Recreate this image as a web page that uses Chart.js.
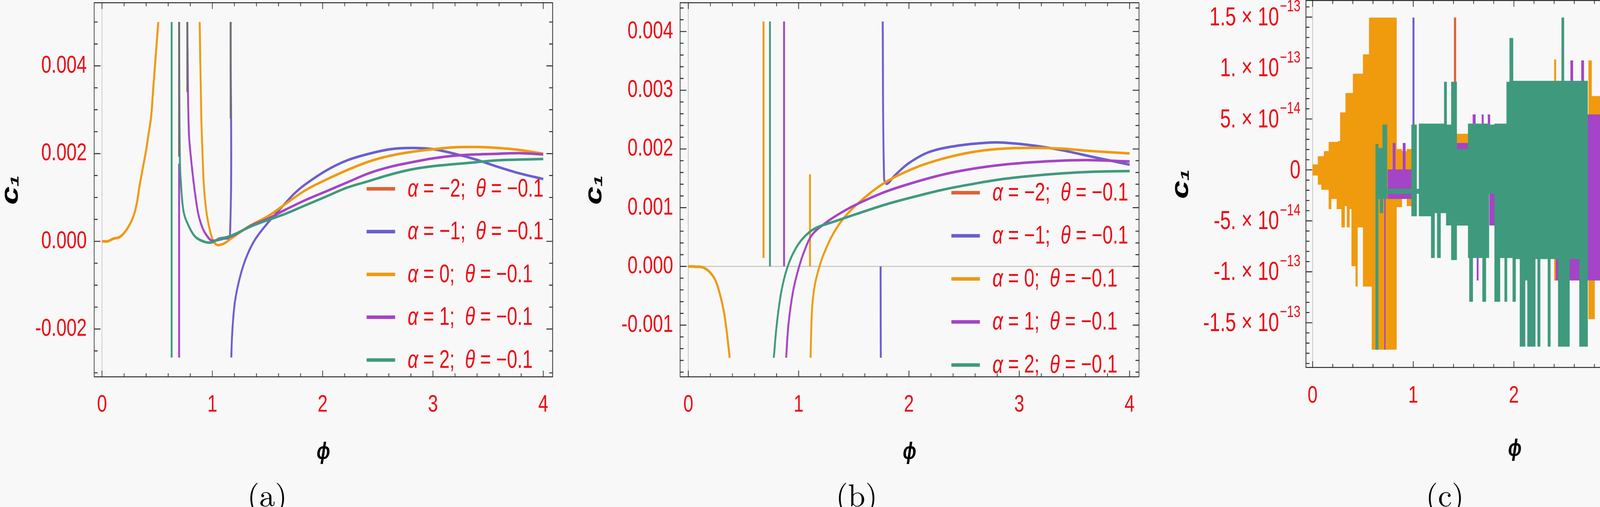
<!DOCTYPE html>
<html>
<head>
<meta charset="utf-8">
<script src="https://cdn.jsdelivr.net/npm/chart.js@4.4.1/dist/chart.umd.min.js"></script>
<style>
  html, body { margin: 0; padding: 0; background: #f8f8f8; }
  #page { position: relative; width: 4418px; height: 1297px; overflow: hidden; background: #f8f8f8; }
  .panel { position: absolute; top: 0; height: 1200px; transform-origin: 0 0; }
  .cap { position: absolute; top: 1222px; font: 80px "Latin Modern Roman", "CMU Serif", "Liberation Serif", serif;
         line-height: 1; transform: translateX(-50%); color: #000; white-space: nowrap; }
</style>
</head>
<body>
<div id="page">
  <div class="panel" id="pA" style="left:0"><canvas id="chA"></canvas></div>
  <div class="panel" id="pB" style="left:1480px"><canvas id="chB"></canvas></div>
  <div class="panel" id="pC" style="left:2950px"><canvas id="chC"></canvas></div>
  <div class="cap" style="left:684px">(a)</div>
  <div class="cap" style="left:2193px">(b)</div>
  <div class="cap" style="left:3699px">(c)</div>
</div>
<script>
// ===== data =====
// panels (a) and (b): c1 in units of 1e-3, points [phi, c1], null = break in the curve
const xTicks = [0, 1, 2, 3, 4];
const alphaLabels = ['−2', '−1', '0', '1', '2'];
const thetaLabel = '−0.1';

const aYTicks = [-2, 0, 2, 4];
const aYLabels = ['-0.002', '0.000', '0.002', '0.004'];
const bYTicks = [-1, 0, 1, 2, 3, 4];
const bYLabels = ['-0.001', '0.000', '0.001', '0.002', '0.003', '0.004'];

const aLeft = [[0,0],[0.05,0.0],[0.103,0.06],[0.162,0.10],[0.221,0.26],[0.28,0.54],[0.315,0.86],[0.339,1.25],
  [0.368,1.65],[0.398,2.05],[0.422,2.45],[0.445,2.84],[0.463,3.44],[0.481,4.04],[0.51,5.0]];
const aRed = aLeft;
const aBlue = [[1.0,0.0],[1.1,0.06],[1.16,0.12],[1.166,5.0], null,
  [1.172,-2.65],[1.18,-2.1],[1.205,-1.374],[1.254,-0.783],[1.312,-0.339],[1.39,0.05],[1.506,0.429],[1.642,0.814],
  [1.74,1.08],[1.837,1.287],[2.031,1.612],[2.225,1.848],[2.42,1.996],[2.614,2.1],[2.809,2.129],[3.003,2.1],
  [3.197,1.996],[3.392,1.863],[3.586,1.7],[3.78,1.553],[4.0,1.42]];
const aOrange = [...aLeft, null,
  [0.885,5.0],[0.9,2.84],[0.912,1.93],[0.924,1.25],[0.947,0.66],[0.977,0.26],[1.006,0.02],[1.04,-0.08],
  [1.075,-0.08],[1.12,-0.03],[1.176,0.075],[1.26,0.22],[1.351,0.37],[1.506,0.577],[1.642,0.814],[1.837,1.154],
  [2.031,1.405],[2.225,1.627],[2.42,1.819],[2.614,1.952],[2.809,2.04],[3.003,2.1],[3.197,2.144],[3.392,2.15],
  [3.586,2.129],[3.78,2.085],[4.0,1.996]];
const aPurple = [[0.699,1.77],[0.699,-2.65], null,
  [0.773,5.0],[0.778,3.64],[0.788,2.447],[0.805,1.929],[0.835,1.253],[0.87,0.656],[0.9,0.38],[0.929,0.21],
  [0.988,0.02],[1.03,0.02],[1.059,0.06],[1.176,0.119],[1.351,0.356],[1.506,0.518],[1.642,0.695],[1.837,0.932],
  [2.031,1.139],[2.225,1.346],[2.42,1.553],[2.614,1.7],[2.809,1.804],[3.003,1.893],[3.197,1.952],[3.392,1.981],
  [3.586,1.996],[3.78,2.011],[4.0,1.981]];
const aTeal = [[0.631,5.0],[0.631,-2.65], null,
  [0.699,5.0],[0.705,1.929],[0.717,1.253],[0.741,0.656],[0.788,0.338],[0.847,0.099],[0.929,-0.012],[0.988,-0.03],
  [1.02,0.0],[1.059,0.045],[1.176,0.134],[1.351,0.341],[1.506,0.488],[1.642,0.607],[1.837,0.814],[2.031,1.021],
  [2.225,1.227],[2.42,1.375],[2.614,1.523],[2.809,1.641],[3.003,1.715],[3.197,1.76],[3.392,1.804],[3.586,1.848],
  [3.78,1.863],[4.0,1.878]];
const aGrey = [[0.699,5.0],[0.699,1.93], null, [0.773,5.0],[0.773,3.4], null, [1.166,5.0],[1.166,2.8]];

const bLeft = [[0,0],[0.082,-0.005],[0.135,-0.019],[0.189,-0.087],[0.242,-0.223],[0.282,-0.44],[0.322,-0.766],
  [0.349,-1.12],[0.375,-1.555]];
const bRed = bLeft;
const bBlue = [[1.743,0.0],[1.745,-1.555], null,
  [1.762,4.17],[1.775,1.489],[1.802,1.407],[1.868,1.543],[2.001,1.761],[2.188,1.951],[2.455,2.06],[2.721,2.108],
  [2.855,2.108],[3.121,2.06],[3.388,1.978],[3.655,1.869],[4.0,1.733]];
const bOrange = [...bLeft, null,
  [0.682,4.17],[0.682,0.144], null, [1.103,1.57],[1.103,0.0], null,
  [1.108,-1.555],[1.122,-0.712],[1.148,-0.304],[1.188,-0.006],[1.228,0.212],[1.308,0.538],[1.415,0.837],
  [1.575,1.136],[1.788,1.435],[2.055,1.679],[2.321,1.842],[2.588,1.951],[2.855,2.005],[3.121,2.019],
  [3.388,2.005],[3.655,1.964],[4.0,1.924]];
const bPurple = [[0.868,4.17],[0.868,0.0], null,
  [0.887,-1.555],[0.908,-0.984],[0.948,-0.44],[0.988,-0.114],[1.042,0.212],[1.122,0.538],[1.255,0.755],
  [1.388,0.918],[1.522,1.054],[1.788,1.272],[2.055,1.435],[2.321,1.57],[2.588,1.666],[2.855,1.733],
  [3.121,1.774],[3.388,1.801],[3.655,1.81],[4.0,1.788]];
const bTeal = [[0.74,4.17],[0.74,0.0], null,
  [0.775,-1.555],[0.802,-0.984],[0.842,-0.44],[0.895,-0.033],[0.962,0.266],[1.042,0.484],[1.148,0.647],
  [1.308,0.755],[1.522,0.891],[1.788,1.054],[2.055,1.19],[2.321,1.312],[2.588,1.407],[2.855,1.489],
  [3.121,1.543],[3.388,1.584],[3.655,1.611],[4.0,1.625]];

// panel (c): c1 in units of 1e-14, steps [phi_start, upper, lower]; a step holds until the next phi
const cYTicks = [-15, -10, -5, 0, 5, 10, 15];
const cYMant = ['-1.5 × 10', '-1. × 10', '-5. × 10', '0', '5. × 10', '1. × 10', '1.5 × 10'];
const cYExp = ['−13', '−13', '−14', '', '−14', '−13', '−13'];

const cOrange = [[0.0,0.5,-0.5],[0.056,1.3,-1.4],[0.09,1.3,-1.9],[0.116,1.8,-1.9],[0.163,2.7,-3.8],[0.183,2.7,-2.8],
  [0.243,2.7,-3.8],[0.257,2.8,-3.8],[0.277,5.6,-3.8],[0.29,5.6,-5.6],[0.317,5.6,-3.5],[0.33,7.5,-3.5],
  [0.344,7.5,-5.6],[0.364,7.5,-3.8],[0.39,7.5,-9.4],[0.404,9.4,-9.4],[0.43,9.4,-11.4],[0.444,9.4,-5.6],
  [0.504,11.3,-11.4],[0.564,14.9,-11.4],[0.591,14.9,-17.6],[0.832,2.0,-3.6],[0.885,1.8,-1.2],[0.939,2.0,-3.5],
  [0.992,null,null],[1.06,3.5,-2.0],[1.09,null,null],[1.43,3.5,-5.4],[1.55,null,null],[2.40,10.8,-10.8],
  [2.42,null,null],[2.74,10.7,-14.6],[2.77,7.2,-14.6],[2.80,7.2,-10.8],[2.86,null,null],[3.08,7.2,-14.6],
  [3.15,null,null],[3.345,14.3,-10.0],[3.36,null,null],[3.615,14.3,-10.0],[3.63,null,null],[4.0,null,null]];
const cPurple = [[0.711,0.0,-17.6],[0.725,null,null],[0.745,0.0,-2.8],[0.80,2.6,-2.8],[0.82,0.0,-2.8],
  [0.90,2.6,-2.8],[0.92,0.0,-2.8],[0.99,null,null],[1.43,2.6,-5.4],[1.55,null,null],[1.59,5.4,2.0],
  [1.62,null,null],[1.63,-8.0,-10.8],[1.65,null,null],[1.68,5.4,2.0],[1.70,null,null],[1.74,5.4,2.0],
  [1.76,0.0,-5.4],[1.81,null,null],[2.415,5.4,-10.8],[2.565,10.7,-10.8],[2.585,5.4,-10.8],[2.673,10.7,-10.8],
  [2.693,5.4,-10.8],[2.856,null,null],[3.08,5.4,-10.8],[3.127,14.9,-10.8],[3.148,5.4,-10.8],[3.175,null,null],
  [3.243,10.7,5.0],[3.263,null,null],[3.515,10.7,5.0],[3.535,null,null],[3.575,10.7,5.0],[3.664,null,null],
  [3.752,10.7,-17.3],[3.82,null,null],[3.915,10.7,5.0],[3.935,null,null],[3.969,10.7,5.0],[4.0,null,null]];
const cTeal = [[0.624,2.5,-17.6],[0.651,2.1,-2.8],[0.671,2.1,-4.2],[0.698,4.4,-2.8],[0.738,-1.9,-2.3],
  [0.985,4.4,-4.5],[1.032,-1.9,-2.3],[1.059,4.5,-4.5],[1.18,4.5,-8.6],[1.21,4.5,-4.2],[1.24,4.5,-8.6],
  [1.27,4.5,-4.2],[1.31,8.6,-4.2],[1.33,4.4,-5.4],[1.38,8.6,-8.8],[1.43,2.0,-5.4],[1.547,4.5,-8.6],
  [1.56,4.5,-12.9],[1.59,4.5,-8.6],[1.69,4.5,-12.9],[1.72,4.5,-8.6],[1.75,4.4,-2.3],[1.81,4.5,-12.9],
  [1.86,4.5,-8.6],[1.91,4.5,-12.9],[1.93,8.6,-8.6],[1.96,12.9,-8.6],[1.99,8.7,-12.9],[2.015,8.7,-8.7],
  [2.062,8.7,-17.3],[2.11,8.7,-10.8],[2.137,8.7,-17.3],[2.211,8.7,-8.7],[2.238,8.7,-17.3],[2.259,8.7,-8.7],
  [2.34,8.7,-17.3],[2.361,8.7,-8.7],[2.442,8.7,-17.3],[2.476,14.9,-17.3],[2.496,8.7,-17.3],[2.551,8.7,-8.7],
  [2.653,8.7,-17.3],[2.735,null,null],[2.856,8.7,-17.3],[2.904,8.7,-8.7],[2.931,8.7,-17.3],[2.958,14.9,-8.7],
  [2.972,8.7,-8.7],[2.985,8.7,-17.3],[3.08,null,null],[3.175,8.7,-17.3],[3.284,14.9,-17.3],[3.318,8.7,-17.3],
  [3.44,14.9,-17.3],[3.501,8.7,-17.3],[3.603,14.9,-17.3],[3.725,8.7,-17.3],[3.745,null,null],
  [3.827,14.9,-17.3],[3.888,8.7,-17.3],[4.0,null,null]];
const cBlue = [[0.992,14.9,4.4],[1.012,null,null],[3.555,5.4,0.2],[3.575,null,null],[4.0,null,null]];
const cRed = [[1.404,14.9,8.6],[1.427,null,null],[4.0,null,null]];

// ===== style =====
// the original graphics are squeezed sideways (narrow lettering), so each panel is drawn wider
// and scaled back with K
const K = 0.74;
const sx = v => v / K;
const RED = '#ec0a14';
const SANS = '"Liberation Sans", Arial, sans-serif';
const COL = { red: '#dd6234', blue: '#6a5fcf', orange: '#f09a0e', purple: '#a444c6', teal: '#3f9a7d', grey: '#6e6e70' };
const seriesColors = [COL.red, COL.blue, COL.orange, COL.purple, COL.teal];

[['pA', 1470], ['pB', 1470], ['pC', 1468]].forEach(([id, w]) => {
  const el = document.getElementById(id);
  el.style.width = sx(w) + 'px';
  el.style.transform = 'scaleX(' + K + ')';
});

function linePts(arr) {
  return arr.map((p, i) => p ? { x: p[0], y: p[1] } : { x: arr[i - 1][0], y: null });
}
function curve(arr, color, order) {
  return { data: linePts(arr), borderColor: color, backgroundColor: color, borderWidth: 6.5, pointRadius: 0,
           tension: 0.35, spanGaps: false, fill: false, borderCapStyle: 'butt', borderJoinStyle: 'round', order };
}
function stepPts(steps, k) {
  const out = [];
  steps.forEach((s, i) => {
    out.push({ x: s[0], y: s[k] });
    const next = steps[i + 1];
    if (s[k] !== null && next && next[k] === null) out.push({ x: next[0], y: s[k] });
  });
  return out;
}
function band(steps, color, order) {
  const base = { borderColor: color, backgroundColor: color, borderWidth: 2.5, pointRadius: 0, stepped: true,
                 spanGaps: false, order };
  return [ { ...base, data: stepPts(steps, 1), fill: false },
           { ...base, data: stepPts(steps, 2), fill: '-1' } ];
}

// ===== plugins =====
const axisLines = {
  id: 'axisLines',
  beforeDatasetsDraw(chart, args, o) {
    const { ctx, chartArea: ca, scales: { x, y } } = chart;
    ctx.save();
    ctx.strokeStyle = '#c4c4c4';
    ctx.lineWidth = 2.5;
    ctx.beginPath();
    if (o.v) { const px = x.getPixelForValue(0); ctx.moveTo(px, ca.top); ctx.lineTo(px, ca.bottom); }
    if (o.h) { const py = y.getPixelForValue(0); ctx.moveTo(ca.left, py); ctx.lineTo(ca.right, py); }
    ctx.stroke();
    ctx.restore();
  }
};

const frameTicks = {
  id: 'frameTicks',
  afterDatasetsDraw(chart, args, o) {
    const { ctx, chartArea: ca, scales: { x, y } } = chart;
    ctx.save();
    ctx.strokeStyle = '#262626';
    ctx.lineWidth = 2.4;
    ctx.strokeRect(ca.left, ca.top, ca.right - ca.left, ca.bottom - ca.top);
    ctx.beginPath();
    const marks = (scale, minor, major) => {
      const res = [];
      for (let k = Math.ceil(scale.min / minor - 1e-9); k * minor <= scale.max + 1e-9; k++) {
        const v = k * minor;
        const isMajor = Math.abs(v / major - Math.round(v / major)) < 1e-6;
        res.push([scale.getPixelForValue(v), isMajor ? 16 : 9]);
      }
      return res;
    };
    marks(x, o.xMinor, o.xMajor).forEach(([p, l]) => {
      ctx.moveTo(p, ca.bottom); ctx.lineTo(p, ca.bottom - l);
      ctx.moveTo(p, ca.top); ctx.lineTo(p, ca.top + l);
    });
    marks(y, o.yMinor, o.yMajor).forEach(([p, l]) => {
      ctx.moveTo(ca.left, p); ctx.lineTo(ca.left + sx(l), p);
      ctx.moveTo(ca.right, p); ctx.lineTo(ca.right - sx(l), p);
    });
    ctx.stroke();
    ctx.restore();
  }
};

const inLegend = {
  id: 'inLegend',
  afterDatasetsDraw(chart, args, o) {
    if (!o.show) return;
    const { ctx, chartArea: ca } = chart;
    ctx.save();
    alphaLabels.forEach((a, i) => {
      const y = ca.top + o.top + i * o.gap;
      const x0 = ca.right - sx(o.right);
      ctx.strokeStyle = seriesColors[i];
      ctx.lineWidth = 9;
      ctx.beginPath(); ctx.moveTo(x0, y); ctx.lineTo(x0 + sx(73), y); ctx.stroke();
      ctx.fillStyle = RED;
      ctx.textBaseline = 'middle';
      ctx.textAlign = 'left';
      const parts = [['α', true], [' = ' + a + ';  ', false], ['θ', true], [' = ' + thetaLabel, false]];
      let tx = x0 + sx(105);
      parts.forEach(([t, it]) => {
        ctx.font = (it ? 'italic ' : '') + '64px ' + SANS;
        ctx.fillText(t, tx, y + 2);
        tx += ctx.measureText(t).width;
      });
    });
    ctx.restore();
  }
};

const sciLabels = {
  id: 'sciLabels',
  afterDraw(chart, args, o) {
    if (!o.show) return;
    const { ctx, chartArea: ca, scales: { y } } = chart;
    ctx.save();
    ctx.fillStyle = RED;
    ctx.textAlign = 'right';
    ctx.textBaseline = 'middle';
    cYTicks.forEach((v, i) => {
      const py = y.getPixelForValue(v);
      let xr = ca.left - sx(14);
      if (cYExp[i]) {
        ctx.font = '42px ' + SANS;
        ctx.fillText(cYExp[i], xr, py - 26);
        xr -= ctx.measureText(cYExp[i]).width + 3;
      }
      ctx.font = '66px ' + SANS;
      ctx.fillText(cYMant[i], xr, py + 3);
    });
    ctx.restore();
  }
};

// ===== charts =====
function xScale(min, max, boxH, tickPad, titlePad) {
  return {
    type: 'linear', min, max,
    afterBuildTicks: s => { s.ticks = xTicks.map(v => ({ value: v })); },
    afterFit: s => { s.height = boxH; s.paddingLeft = 0; s.paddingRight = 0; },
    grid: { display: false }, border: { display: false },
    ticks: { color: RED, font: { family: SANS, size: 62 }, padding: tickPad, maxRotation: 0, autoSkip: false,
             callback: (v, i) => String(xTicks[i]) },
    title: { display: true, text: 'ϕ', color: '#000',
             font: { family: SANS, size: 62, weight: 'bold', style: 'italic', lineHeight: 1 },
             padding: { top: 0, bottom: titlePad } }
  };
}
function yScale(min, max, vals, labels, boxW, tickPad, titlePad) {
  return {
    type: 'linear', min, max,
    afterBuildTicks: s => { s.ticks = vals.map(v => ({ value: v })); },
    afterFit: s => { s.width = sx(boxW); s.paddingTop = 0; s.paddingBottom = 0; },
    grid: { display: false }, border: { display: false },
    ticks: { display: !!labels, color: RED, font: { family: SANS, size: 63 }, padding: sx(tickPad),
             callback: (v, i) => labels ? labels[i] : '' },
    title: { display: true, text: 'c₁', color: '#000',
             font: { family: SANS, size: 84, weight: 'bold', style: 'italic', lineHeight: 1 },
             padding: { top: titlePad, bottom: 0 } }
  };
}
function baseOptions(pad, x, y, plug) {
  return {
    responsive: true, maintainAspectRatio: false, animation: false, devicePixelRatio: 1, events: [],
    layout: { padding: pad },
    scales: { x, y },
    plugins: Object.assign({ legend: { display: false }, tooltip: { enabled: false } }, plug)
  };
}

new Chart(document.getElementById('chA'), {
  type: 'line',
  data: { datasets: [
    curve(aGrey, COL.grey, 0), curve(aTeal, COL.teal, 1), curve(aPurple, COL.purple, 2),
    curve(aOrange, COL.orange, 3), curve(aBlue, COL.blue, 4), curve(aRed, COL.red, 5)
  ] },
  options: baseOptions({ left: 0, right: sx(56), top: 7, bottom: 0 },
    xScale(-0.071, 4.085, 236, 27, 12),
    yScale(-3.09, 5.44, aYTicks, aYLabels, 241, 13, -4),
    { axisLines: { v: true, h: false }, frameTicks: { xMinor: 0.2, xMajor: 1, yMinor: 0.5, yMajor: 2 },
      inLegend: { show: true, right: 476, top: 476, gap: 109.5 }, sciLabels: { show: false } }),
  plugins: [axisLines, frameTicks, inLegend, sciLabels]
});

new Chart(document.getElementById('chB'), {
  type: 'line',
  data: { datasets: [
    curve(bTeal, COL.teal, 1), curve(bPurple, COL.purple, 2), curve(bOrange, COL.orange, 3),
    curve(bBlue, COL.blue, 4), curve(bRed, COL.red, 5)
  ] },
  options: baseOptions({ left: 0, right: sx(35), top: 7, bottom: 0 },
    xScale(-0.074, 4.085, 236, 27, 12),
    yScale(-1.88, 4.49, bYTicks, bYLabels, 261, 12, 15),
    { axisLines: { v: true, h: true }, frameTicks: { xMinor: 0.2, xMajor: 1, yMinor: 0.2, yMajor: 1 },
      inLegend: { show: true, right: 480, top: 486, gap: 110.2 }, sciLabels: { show: false } }),
  plugins: [axisLines, frameTicks, inLegend, sciLabels]
});

new Chart(document.getElementById('chC'), {
  type: 'line',
  data: { datasets: [
    ...band(cTeal, COL.teal, 1), ...band(cPurple, COL.purple, 2), ...band(cBlue, COL.blue, 3),
    ...band(cRed, COL.red, 4), ...band(cOrange, COL.orange, 5)
  ] },
  options: baseOptions({ left: 0, right: sx(6), top: 1, bottom: 0 },
    xScale(-0.066, 4.085, 260, 28, 20),
    yScale(-19.39, 16.63, cYTicks, null, 393, 14, 58),
    { axisLines: { v: true, h: false }, frameTicks: { xMinor: 0.2, xMajor: 1, yMinor: 1, yMajor: 5 },
      inLegend: { show: false }, sciLabels: { show: true } }),
  plugins: [axisLines, frameTicks, inLegend, sciLabels]
});
</script>
</body>
</html>
